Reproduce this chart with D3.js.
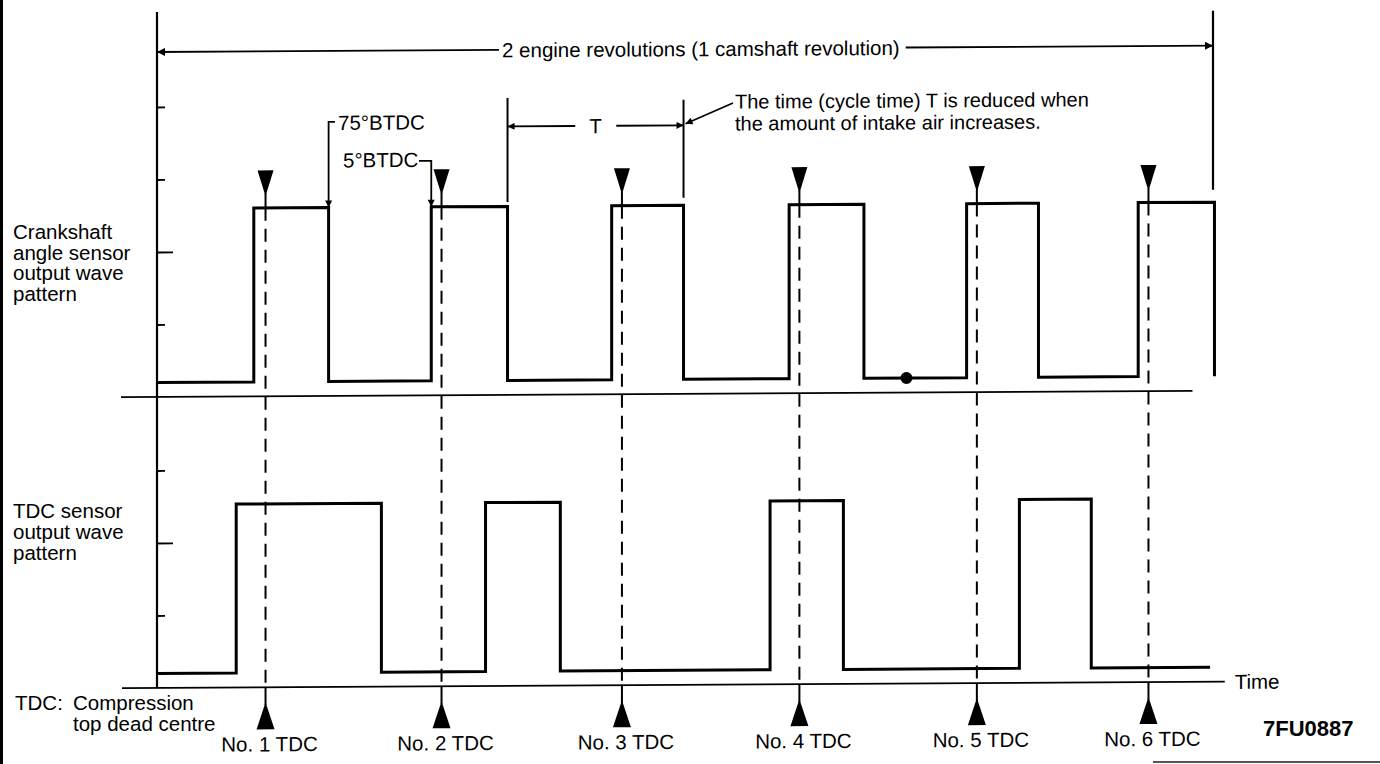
<!DOCTYPE html>
<html><head><meta charset="utf-8">
<script src="https://cdn.jsdelivr.net/npm/d3@7"></script>
<style>
html,body{margin:0;padding:0;background:#fff;}
svg{display:block;}
text{font-family:"Liberation Sans",Arial,Helvetica,sans-serif;fill:#000;font-size:20.5px;}
</style></head><body>
<svg id="chart" width="1380" height="764"></svg>
<script>
// Crank angle (deg, one camshaft revolution = 720) of each edge of the crankshaft angle sensor signal
const crankEdges = [66, 117, 187, 239, 310, 359, 431, 482, 552, 601, 669, 721];
const crankLevels = [0.2, 2.6];          // low, high
// Edges of the TDC sensor signal, and where its trace stops
const tdcEdges = [54, 153, 224, 275, 418, 468, 588, 637];
const tdcEnd = 718;
const tdcLevels = [0.2, 2.53];           // low, high
// Compression top dead centre of each cylinder
const tdcMarks = [74, 194, 317, 438, 559, 676];
const tdcLabels = ["No. 1 TDC", "No. 2 TDC", "No. 3 TDC", "No. 4 TDC", "No. 5 TDC", "No. 6 TDC"];
// Scale ticks of each trace
const crankTicks = [1, 2, 3, 4];
const tdcTicks = [1, 2, 3];
const majorTick = 2;
// Annotated angles
const btdc75 = 117, btdc5 = 187;
const cycleStart = 239, cycleEnd = 359;
const spotAngle = 511;

const svg = d3.select("#chart");
const W = 1380, H = 764;

const x = d3.scaleLinear().domain([0, 720]).range([157, 1213]);
const yC = d3.scaleLinear().domain([0, 4]).range([397, 107]);
const yT = d3.scaleLinear().domain([0, 3]).range([688, 470.5]);

// arrowheads
const defs = svg.append("defs");
function marker(id, len, wid) {
  defs.append("marker").attr("id", id)
    .attr("viewBox", "0 0 10 10").attr("refX", 10).attr("refY", 5)
    .attr("markerUnits", "userSpaceOnUse")
    .attr("markerWidth", len).attr("markerHeight", wid)
    .attr("orient", "auto")
    .append("path").attr("d", "M0,0 L10,5 L0,10 Z").attr("fill", "#000");
}
marker("arr", 13, 8);
marker("arrS", 12, 7);

// frame edges
svg.append("line").attr("x1", 1.5).attr("x2", 1.5).attr("y1", 0).attr("y2", H)
  .attr("stroke", "#000").attr("stroke-width", 3);
svg.append("line").attr("x1", 1153).attr("x2", W).attr("y1", 762).attr("y2", 762)
  .attr("stroke", "#555").attr("stroke-width", 2);

// side labels
function multiline(lines, x0, y0, lh) {
  const t = svg.append("text").attr("x", x0).attr("y", y0);
  lines.forEach((s, i) => t.append("tspan").attr("x", x0).attr("y", y0 + i * lh).text(s));
}
multiline(["Crankshaft", "angle sensor", "output wave", "pattern"], 13, 239, 20.6);
multiline(["TDC sensor", "output wave", "pattern"], 13, 518, 21);
svg.append("text").attr("x", 15).attr("y", 710).text("TDC:");
multiline(["Compression", "top dead centre"], 73, 710, 21);
svg.append("text").attr("x", 1263).attr("y", 736)
  .style("font-weight", "bold").style("font-size", "22px").text("7FU0887");

// plot, drawn with the slight slant of the original sheet
const slope = 0.006;
const g = svg.append("g")
  .attr("transform", `translate(${x(0)},0) skewY(${-Math.atan(slope) * 180 / Math.PI}) translate(${-x(0)},0)`);

// vertical axis and scale ticks
g.append("line").attr("x1", x(0)).attr("x2", x(0)).attr("y1", 12).attr("y2", yT(0))
  .attr("stroke", "#000").attr("stroke-width", 2.2);
function ticks(scale, vals) {
  const a = g.append("g").attr("transform", `translate(${x(0)},0)`)
    .call(d3.axisRight(scale).tickValues(vals).tickSize(8).tickFormat(""));
  a.select(".domain").remove();
  a.selectAll(".tick line").attr("stroke", "#000").attr("stroke-width", 1.8)
    .attr("x2", d => d === majorTick ? 16 : 8);
}
ticks(yC, crankTicks);
ticks(yT, tdcTicks);

// time baselines
g.append("line").attr("x1", x(0) - 36).attr("x2", x(706)).attr("y1", yC(0)).attr("y2", yC(0))
  .attr("stroke", "#000").attr("stroke-width", 1.8);
g.append("line").attr("x1", x(0) - 35).attr("x2", x(728)).attr("y1", yT(0)).attr("y2", yT(0))
  .attr("stroke", "#000").attr("stroke-width", 1.8);
g.append("text").attr("x", x(728) + 10).attr("y", yT(0)).attr("dy", "0.36em").text("Time");

// TDC reference lines and markers
tdcMarks.forEach((m, i) => {
  const cx = x(m);
  g.append("line").attr("x1", cx).attr("x2", cx).attr("y1", yC(crankLevels[1])).attr("y2", yT(0))
    .attr("stroke", "#000").attr("stroke-width", 2).attr("stroke-dasharray", "13,8");
  g.append("line").attr("x1", cx).attr("x2", cx).attr("y1", 194).attr("y2", yC(crankLevels[1]))
    .attr("stroke", "#000").attr("stroke-width", 2);
  g.append("path").attr("d", `M${cx - 8},171L${cx + 8},171L${cx},197Z`).attr("fill", "#000");
  g.append("line").attr("x1", cx).attr("x2", cx).attr("y1", yT(0)).attr("y2", 706)
    .attr("stroke", "#000").attr("stroke-width", 2);
  g.append("path").attr("d", `M${cx},703L${cx + 9},730L${cx - 9},730Z`).attr("fill", "#000");
  g.append("text").attr("x", cx + 4).attr("y", 752).attr("text-anchor", "middle").text(tdcLabels[i]);
});

// signal traces
const step = d3.line().curve(d3.curveStepAfter);
const crankPts = [[0, crankLevels[0]]].concat(crankEdges.map((e, i) => [e, crankLevels[(i + 1) % 2]]));
g.append("path").attr("d", step(crankPts.map(p => [x(p[0]), yC(p[1])])))
  .attr("fill", "none").attr("stroke", "#000").attr("stroke-width", 3);
g.append("circle").attr("cx", x(spotAngle)).attr("cy", yC(crankLevels[0])).attr("r", 6).attr("fill", "#000");

const tdcPts = [[0, tdcLevels[0]]].concat(tdcEdges.map((e, i) => [e, tdcLevels[(i + 1) % 2]]), [[tdcEnd, tdcLevels[0]]]);
g.append("path").attr("d", step(tdcPts.map(p => [x(p[0]), yT(p[1])])))
  .attr("fill", "none").attr("stroke", "#000").attr("stroke-width", 3);

// one camshaft revolution dimension
const dimY = 52;
g.append("line").attr("x1", x(720)).attr("x2", x(720)).attr("y1", 17).attr("y2", 196)
  .attr("stroke", "#000").attr("stroke-width", 2.2);
const rev = g.append("text").attr("x", 502).attr("y", dimY).attr("dy", "0.36em")
  .text("2 engine revolutions (1 camshaft revolution)");
const rb = rev.node().getBBox();
g.append("line").attr("x1", rb.x - 3).attr("x2", x(0)).attr("y1", dimY).attr("y2", dimY)
  .attr("stroke", "#000").attr("stroke-width", 1.8).attr("marker-end", "url(#arr)");
g.append("line").attr("x1", rb.x + rb.width + 6).attr("x2", x(720)).attr("y1", dimY).attr("y2", dimY)
  .attr("stroke", "#000").attr("stroke-width", 1.8).attr("marker-end", "url(#arr)");

// cycle time T
const tY = 128.5;
g.append("line").attr("x1", x(cycleStart)).attr("x2", x(cycleStart)).attr("y1", 100).attr("y2", 204)
  .attr("stroke", "#000").attr("stroke-width", 2);
g.append("line").attr("x1", x(cycleEnd)).attr("x2", x(cycleEnd)).attr("y1", 103).attr("y2", 201)
  .attr("stroke", "#000").attr("stroke-width", 2);
const tt = g.append("text").attr("x", (x(cycleStart) + x(cycleEnd)) / 2).attr("y", tY).attr("dy", "0.36em")
  .attr("text-anchor", "middle").text("T");
const tb = tt.node().getBBox();
g.append("line").attr("x1", tb.x - 14).attr("x2", x(cycleStart)).attr("y1", tY).attr("y2", tY)
  .attr("stroke", "#000").attr("stroke-width", 1.8).attr("marker-end", "url(#arrS)");
g.append("line").attr("x1", tb.x + tb.width + 14).attr("x2", x(cycleEnd)).attr("y1", tY).attr("y2", tY)
  .attr("stroke", "#000").attr("stroke-width", 1.8).attr("marker-end", "url(#arrS)");
g.append("line").attr("x1", 733).attr("y1", 106.5).attr("x2", x(cycleEnd) + 2).attr("y2", 127)
  .attr("stroke", "#000").attr("stroke-width", 1.6).attr("marker-end", "url(#arrS)");
const note = g.append("text").attr("x", 735).attr("y", 112).style("font-size", "20px");
note.append("tspan").attr("x", 735).attr("y", 112).text("The time (cycle time) T is reduced when");
note.append("tspan").attr("x", 735).attr("y", 134).text("the amount of intake air increases.");

// edge angle callouts
g.append("text").attr("x", 338).attr("y", 131).text("75°BTDC");
g.append("path").attr("d", `M335,123H${x(btdc75)}V${yC(crankLevels[1])}`)
  .attr("fill", "none").attr("stroke", "#000").attr("stroke-width", 1.8).attr("marker-end", "url(#arrS)");
g.append("text").attr("x", 343).attr("y", 168.5).text("5°BTDC");
g.append("path").attr("d", `M419,162.5H${x(btdc5)}V${yC(crankLevels[1])}`)
  .attr("fill", "none").attr("stroke", "#000").attr("stroke-width", 1.8).attr("marker-end", "url(#arrS)");
</script>
</body></html>
